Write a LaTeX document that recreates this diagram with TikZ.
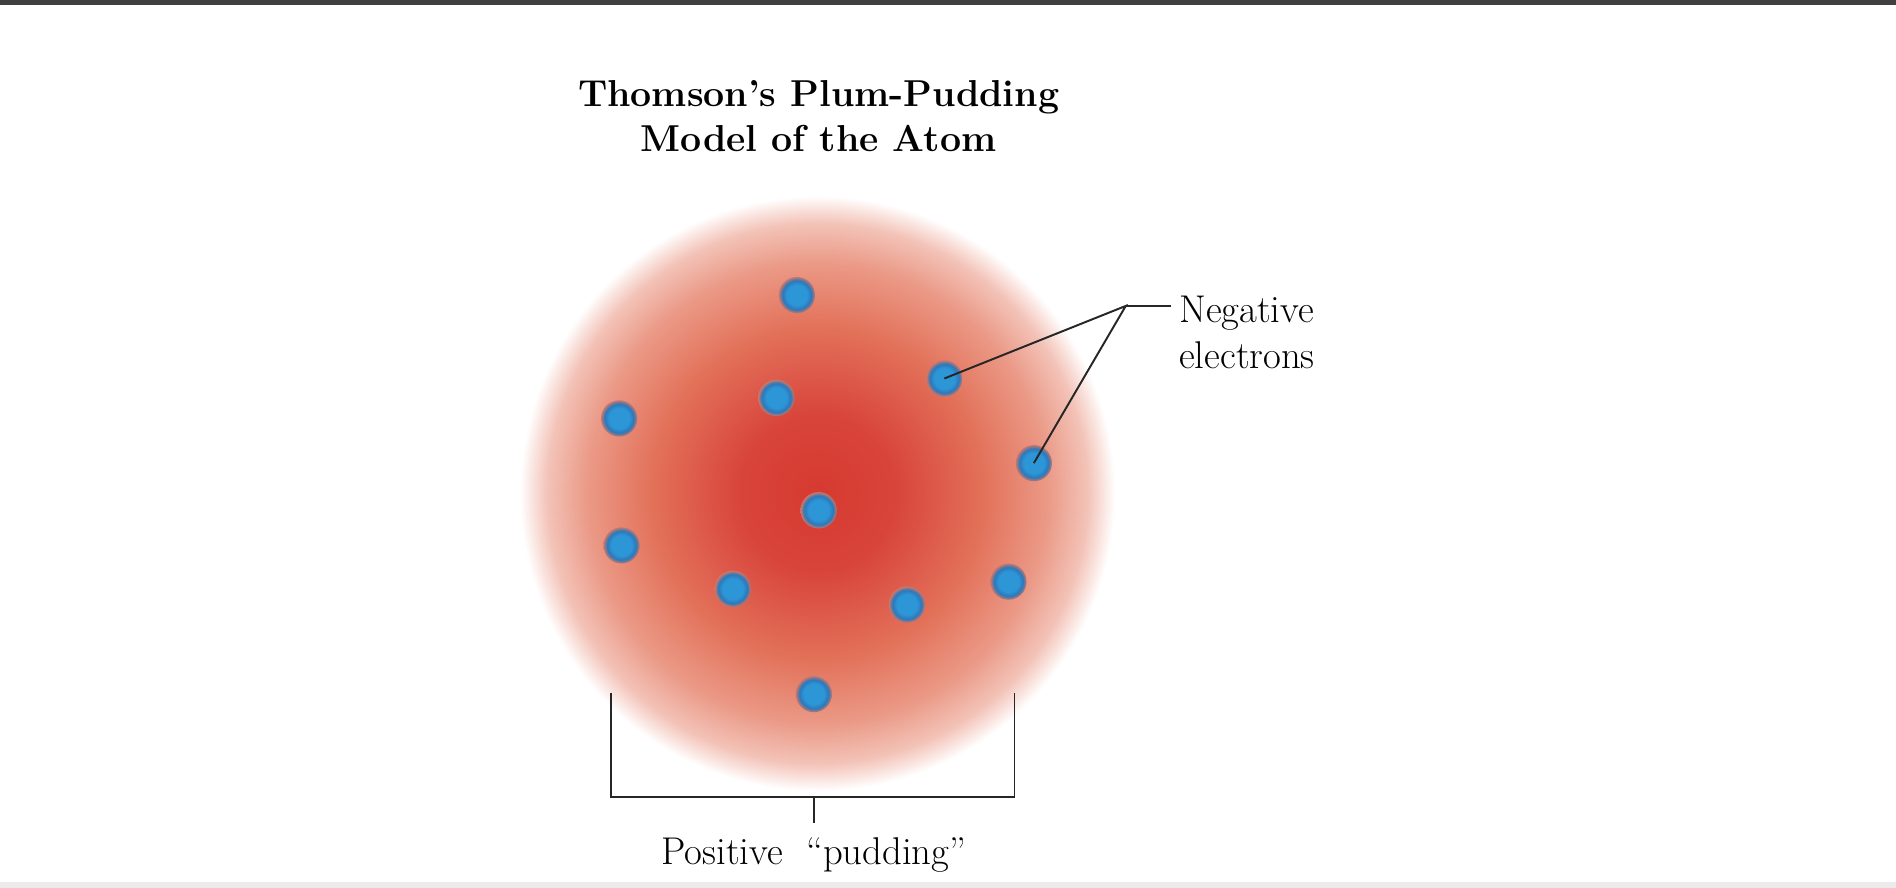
\documentclass[tikz,border=0pt]{standalone}
\usetikzlibrary{calc}
\definecolor{pudred}{RGB}{214,58,48}
\definecolor{pudsalmon}{RGB}{228,120,95}
\definecolor{elblue}{RGB}{45,150,215}
\definecolor{elring}{RGB}{45,120,185}
\pgfdeclareradialshading{pudding}{\pgfpoint{0bp}{0bp}}{
 color(0bp)=(pudred);
 color(5.3bp)=(pudred!95!white);
 color(11.5bp)=(pudsalmon!90!pudred);
 color(15.9bp)=(pudsalmon!75!white);
 color(18.6bp)=(pudsalmon!45!white);
 color(19.9bp)=(pudsalmon!15!white);
 color(20.5bp)=(white);
 color(50bp)=(white)}
\pgfdeclareradialshading{electron}{\pgfpoint{0bp}{0bp}}{
 color(0bp)=(elblue);
 color(14bp)=(elblue);
 color(20bp)=(elring);
 color(26bp)=(pudsalmon);
 color(50bp)=(pudsalmon)}
\tikzset{
 lbl/.style={font=\fontsize{32}{38}\selectfont, inner sep=0pt},
 ttl/.style={font=\fontsize{31}{38}\selectfont\bfseries, align=center, inner sep=0pt},
 ln/.style={line width=1.6pt, black!85},
 el/.style={circle, minimum size=30pt, inner sep=0pt, shading=electron}
}
\begin{document}
\begin{tikzpicture}[x=1pt,y=-1pt]
\useasboundingbox (0,0) rectangle (1568,734);
\fill[black!75] (0,0) rectangle (1568,4);
\shade[shading=pudding] (676,408) circle (300);
\fill[black!8] (0,729) rectangle (1568,734);
\node[ttl] (title) at (677,96) {Thomson’s Plum-Pudding\\Model of the Atom};
\foreach \n/\x/\y in {e1/659/244,e2/781/313,e3/642/329,e4/512/346,e5/855/383,e6/677/422,e7/514/451,e8/606/487,e9/750/500,e10/834/481,e11/673/574}
  \node[el] (\n) at (\x,\y) {};
\coordinate (j) at (931,253);
\coordinate (jr) at (968,253);
\draw[ln] (e2.center) -- (j) -- (e5.center);
\draw[ln] (j) -- (jr);
\node[lbl, anchor=west, align=left] (neg) at (975,275) {Negative\\electrons};
\coordinate (bl) at (505,573); \coordinate (br) at (839,573);
\draw[ln] (bl) -- (505,659) -- (839,659) -- (br);
\coordinate (bt) at (673,659); \coordinate (bb) at (673,681);
\draw[ln] (bt) -- (bb);
\node[lbl] (pos) at (673,707) {Positive \ ``pudding''};
\end{tikzpicture}
\end{document}
